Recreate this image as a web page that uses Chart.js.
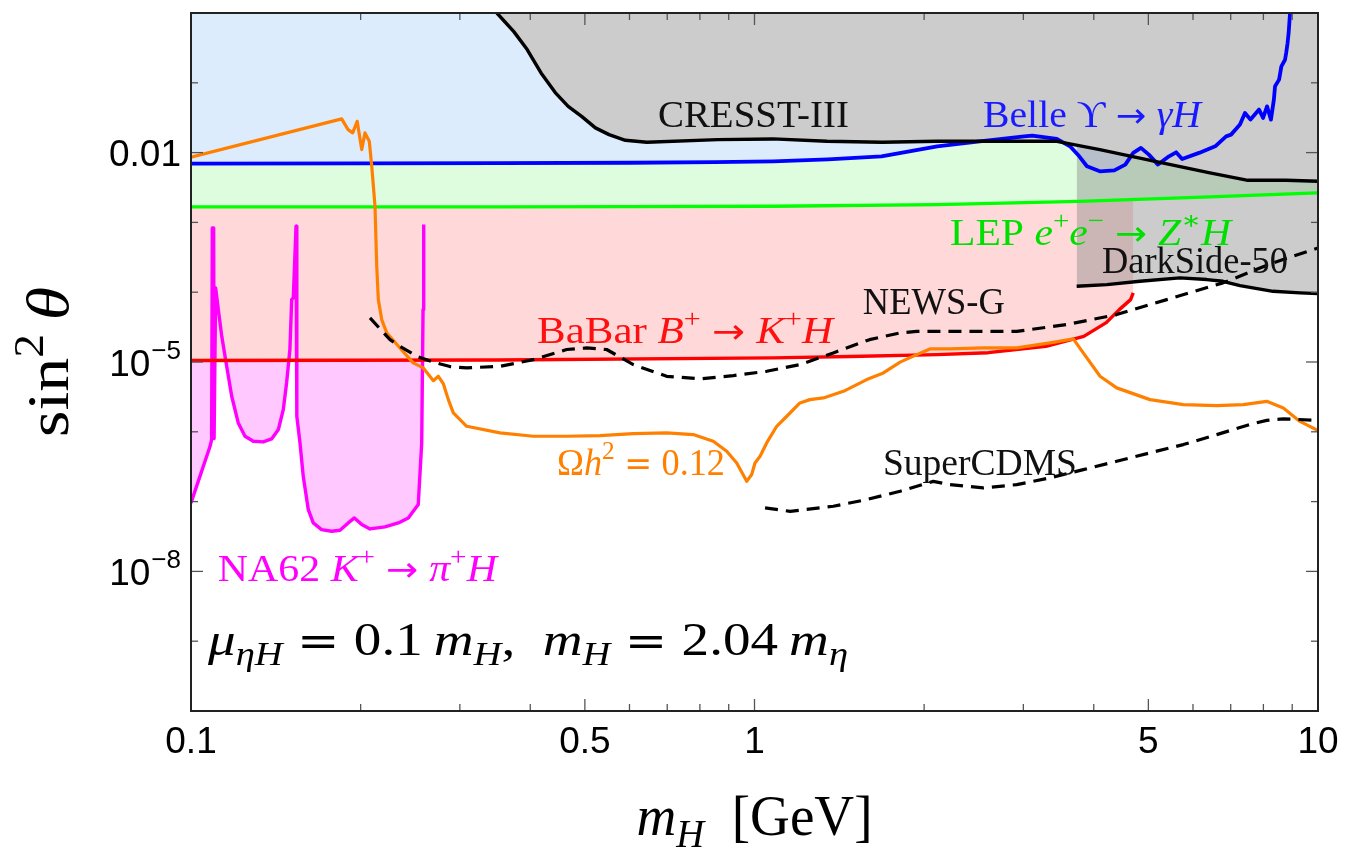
<!DOCTYPE html>
<html><head><meta charset="utf-8">
<script src="https://cdn.jsdelivr.net/npm/chart.js@4.4.1/dist/chart.umd.min.js"></script>
<style>html,body{margin:0;padding:0;background:#fff}canvas{display:block}</style>
</head><body>
<canvas id="c" width="1356" height="847"></canvas>
<script>
// ---------------- data (m_H in GeV, sin^2 theta) ----------------
const belleX = [0.1, 0.2, 0.35, 0.6, 0.85, 1.08, 1.35, 1.68, 2.11, 2.51, 3.01, 3.11, 3.44, 3.63, 3.77, 3.89, 4.10, 4.35, 4.55, 4.70, 4.85, 5.01, 5.20, 5.44, 5.60, 5.74, 6.15, 6.57, 6.87, 7.01, 7.27, 7.42, 7.59, 7.86, 7.99, 8.12, 8.25, 8.35, 8.39, 8.53, 8.61, 8.74, 8.78, 8.83, 8.87, 8.92];
const belleY = [6.95e-3, 7.0e-3, 7.05e-3, 7.15e-3, 7.3e-3, 7.5e-3, 8.0e-3, 8.85e-3, 1.23e-2, 1.45e-2, 1.71e-2, 1.75e-2, 1.57e-2, 1.23e-2, 8.85e-3, 6.37e-3, 5.4e-3, 5.57e-3, 6.73e-3, 9.9e-3, 1.17e-2, 9.36e-3, 6.73e-3, 8.85e-3, 1.01e-2, 8.1e-3, 9.9e-3, 1.23e-2, 1.71e-2, 1.81e-2, 2.52e-2, 3.7e-2, 2.97e-2, 4.13e-2, 3.14e-2, 4.6e-2, 2.97e-2, 5.74e-2, 8.9e-2, 0.111, 0.172, 0.214, 0.267, 0.37, 0.52, 1.0];

const cresstX = [0.349, 0.374, 0.395, 0.418, 0.443, 0.467, 0.494, 0.522, 0.552, 0.590, 0.644, 0.861, 1.078, 1.345, 1.684, 2.108, 2.63, 3.44, 4.10, 5.14, 6.43, 7.51, 8.78, 10];
const cresstY = [1.0, 0.541, 0.299, 0.1387, 0.0724, 0.046, 0.0328, 0.0226, 0.0181, 0.015, 0.01406, 0.01535, 0.0157, 0.01452, 0.01406, 0.01452, 0.01452, 0.01452, 0.01104, 7.5e-3, 5.12e-3, 4.01e-3, 4.01e-3, 3.88e-3];

const darksideX = [3.73, 4.22, 4.83, 5.69, 6.35, 6.78, 7.27, 8.32, 9.29, 10];
const darksideY = [1.217e-4, 1.285e-4, 1.433e-4, 1.603e-4, 1.517e-4, 1.433e-4, 1.245e-4, 1.03e-4, 9.77e-5, 9.55e-5];

const lepX = [0.1, 0.35, 0.6, 1.08, 2.11, 3.77, 6.43, 10];
const lepY = [1.667e-3, 1.667e-3, 1.68e-3, 1.70e-3, 1.80e-3, 2.0e-3, 2.32e-3, 2.65e-3];

const babarX = [0.1, 0.35, 1.08, 1.48, 2.11, 2.6, 3.29, 3.84, 4.21, 4.44, 4.65, 4.70];
const babarY = [1.05e-5, 1.07e-5, 1.145e-5, 1.2e-5, 1.277e-5, 1.36e-5, 1.68e-5, 2.33e-5, 3.67e-5, 5.63e-5, 7.83e-5, 9.77e-5];

const omegaX = [0.1, 0.1851, 0.190, 0.1936, 0.1972, 0.2009, 0.2036, 0.2072, 0.2093, 0.2121, 0.2136, 0.2150, 0.2180, 0.2225, 0.2349, 0.2479, 0.2584, 0.2692, 0.2748, 0.2805, 0.2862, 0.2921, 0.3085, 0.3535, 0.4051, 0.4642, 0.5318, 0.6094, 0.6984, 0.7785, 0.8450, 0.8927, 0.9299, 0.9687, 0.9886, 1.002, 1.023, 1.051, 1.095, 1.141, 1.204, 1.254, 1.325, 1.438, 1.582, 1.693, 1.813, 1.941, 2.048, 2.223, 2.547, 2.92, 3.345, 3.679, 3.832, 4.104, 4.393, 5.033, 5.768, 6.613, 7.37, 8.11, 8.68, 9.29, 10];
const omegaY = [8.6e-3, 0.0304, 0.02136, 0.01915, 0.0281, 0.01104, 0.01915, 0.01452, 6.37e-3, 1.70e-3, 2.35e-4, 7.83e-5, 4.05e-5, 2.61e-5, 1.59e-5, 9.7e-6, 8.23e-6, 5.4e-6, 6.24e-6, 4.85e-6, 2.89e-6, 1.87e-6, 1.2e-6, 9.64e-7, 8.63e-7, 8.63e-7, 8.83e-7, 9.42e-7, 9.64e-7, 9.12e-7, 7.31e-7, 5.26e-7, 3.58e-7, 1.95e-7, 2.44e-7, 3.58e-7, 4.46e-7, 6.93e-7, 1.2e-6, 1.67e-6, 2.59e-6, 2.89e-6, 3.06e-6, 3.8e-6, 5.6e-6, 6.98e-6, 9.97e-6, 1.277e-5, 1.54e-5, 1.54e-5, 1.59e-5, 1.59e-5, 1.88e-5, 2.14e-5, 1.35e-5, 6.24e-6, 4.26e-6, 2.89e-6, 2.45e-6, 2.37e-6, 2.45e-6, 2.73e-6, 2.2e-6, 1.41e-6, 1.04e-6];

const newsX = [0.2078, 0.2255, 0.2349, 0.2515, 0.2692, 0.2881, 0.3085, 0.3535, 0.4051, 0.4642, 0.5036, 0.5465, 0.6094, 0.6984, 0.8004, 0.9171, 1.051, 1.204, 1.38, 1.6, 1.813, 1.941, 2.38, 2.92, 3.581, 4.393, 5.389, 6.782, 8.32, 10];
const newsY = [4.28e-5, 2.09e-5, 1.68e-5, 1.21e-5, 1.0e-5, 8.6e-6, 8.23e-6, 8.68e-6, 1.08e-5, 1.51e-5, 1.59e-5, 1.51e-5, 9.18e-6, 6.24e-6, 5.73e-6, 6.38e-6, 7.36e-6, 9.18e-6, 1.35e-5, 2.09e-5, 2.61e-5, 2.75e-5, 2.75e-5, 2.75e-5, 3.44e-5, 4.78e-5, 7.83e-5, 1.36e-4, 2.63e-4, 4.31e-4];

const cdmsX = [1.044, 1.157, 1.38, 1.582, 1.813, 2.076, 2.223, 2.547, 2.92, 3.345, 3.832, 4.393, 5.033, 5.768, 6.613, 7.57, 8.11, 8.68, 10];
const cdmsY = [8.13e-8, 7.26e-8, 8.57e-8, 1.07e-7, 1.41e-7, 1.95e-7, 1.75e-7, 1.57e-7, 1.75e-7, 2.19e-7, 2.87e-7, 3.78e-7, 4.99e-7, 6.56e-7, 9.12e-7, 1.27e-6, 1.46e-6, 1.53e-6, 1.46e-6];

const na62X = [0.1, 0.1081, 0.1088, 0.1091, 0.1097, 0.1099, 0.1101, 0.1106, 0.1118, 0.1134, 0.1157, 0.1181, 0.1213, 0.1247, 0.129, 0.1343, 0.139, 0.1429, 0.1458, 0.1478, 0.1498, 0.1509, 0.1519, 0.1536, 0.1540, 0.1542, 0.1561, 0.1582, 0.1615, 0.1648, 0.1705, 0.1777, 0.1838, 0.1901, 0.195, 0.2009, 0.2078, 0.2209, 0.2333, 0.243, 0.2531, 0.2567, 0.2581, 0.2588];
const na62Y = [9.58e-8, 6.2e-7, 7.73e-7, 8.34e-4, 8.34e-4, 8.0e-7, 8.0e-7, 1.15e-4, 5.64e-5, 2.33e-5, 8.67e-6, 3.23e-6, 1.34e-6, 8.63e-7, 7.31e-7, 7.16e-7, 7.9e-7, 1.08e-6, 2.08e-6, 5.02e-6, 1.51e-5, 7.83e-5, 8.3e-5, 8.8e-4, 8.8e-4, 1.67e-6, 6.93e-7, 2.3e-7, 7.67e-8, 4.95e-8, 3.97e-8, 3.76e-8, 3.88e-8, 4.95e-8, 5.84e-8, 4.68e-8, 4.06e-8, 4.34e-8, 4.95e-8, 5.84e-8, 9.06e-8, 6.93e-7, 5.64e-5, 9.3e-4];

// ticks
const xMajorTicks = [0.1, 0.5, 1, 5, 10];
const xTickLabels = ['0.1', '0.5', '1', '5', '10'];
const xMinorTicks = [0.2, 0.3, 0.4, 0.6, 0.7, 0.8, 0.9, 2, 3, 4, 6, 7, 8, 9];
const yMajorTicks = [1e-2, 1e-5, 1e-8];
const yTickLabels = [['0.01', ''], ['10', '−5'], ['10', '−8']];
const yMinorTicks = [1, 1e-1, 1e-3, 1e-4, 1e-6, 1e-7, 1e-9, 1e-10];

// ---------------- styling / layout ----------------
const SERIF = "'Liberation Serif','DejaVu Serif',serif";
const SANS = "'Liberation Sans',Arial,sans-serif";
const SYM = "'DejaVu Sans','Liberation Sans',sans-serif";

// label anchors (left edge, baseline) in data coordinates; w = rendered width in px
const annotations = [
  {x: 0.674, y: 0.0236, size: 37, w: 191, color: '#111', segs: [['CRESST-III', 'r']]},
  {x: 2.544, y: 0.0236, size: 37, w: 218, color: '#1a1aff', segs: [['Belle ', 'r'], ['ϒ', 'r'], ['→', 'a'], ['γH', 'i']]},
  {x: 2.223, y: 4.81e-4, size: 37, w: 281, color: '#00e000', segs: [['LEP ', 'r'], ['e', 'i'], ['+', '^'], ['e', 'i'], ['−', '^'], ['→', 'a'], ['Z', 'i'], ['∗', '^'], ['H', 'i']]},
  {x: 4.137, y: 1.91e-4, size: 37, w: 186, color: '#111', segs: [['DarkSide-50', 'r']]},
  {x: 1.557, y: 4.93e-5, size: 37, w: 142, color: '#111', segs: [['NEWS-G', 'r']]},
  {x: 0.4111, y: 1.9e-5, size: 37, w: 296, color: '#ff1010', segs: [['BaBar ', 'r'], ['B', 'i'], ['+', '^'], ['→', 'a'], ['K', 'i'], ['+', '^'], ['H', 'i']]},
  {x: 0.4461, y: 2.44e-7, size: 37, w: 168, color: '#ff8000', segs: [['Ω', 'r'], ['h', 'i'], ['2', '^'], ['=', 'a'], ['0.12', 'r']]},
  {x: 1.690, y: 2.44e-7, size: 37, w: 194, color: '#111', segs: [['SuperCDMS', 'r']]},
  {x: 0.1116, y: 7.38e-9, size: 37, w: 279, color: '#ff00ff', segs: [['NA62 ', 'r'], ['K', 'i'], ['+', '^'], ['→', 'a'], ['π', 'i'], ['+', '^'], ['H', 'i']]},
  {x: 0.1072, y: 6.43e-10, size: 47, w: 640, color: '#000', segs: [['μ', 'i'], ['ηH', '_i'], ['=', 'a'], ['0.1', 'r'], ['\u2009', 'r'], ['m', 'i'], ['H', '_i'], [',', 'r'], ['\u2002', 'r'], ['m', 'i'], ['H', '_i'], ['=', 'a'], ['2.04', 'r'], ['\u2009', 'r'], ['m', 'i'], ['η', '_i']]}
];

function drawRich(ctx, segs, x, y, size, color, align, targetW) {
  const parts = segs.map(([t, st]) => {
    const sup = st.includes('^'), sub = st.includes('_');
    const it = st.includes('i');
    const rel = st.includes('a');
    const fs = (sup || sub) ? size * 0.7 : (rel ? size * 0.92 : size);
    const font = rel ? (fs + 'px ' + SYM) : ((it ? 'italic ' : '') + fs + 'px ' + SERIF);
    ctx.font = font;
    const pad = rel ? size * 0.26 : 0;
    return {t, font, pad, w: ctx.measureText(t).width + 2 * pad, dy: sup ? -size * 0.42 : (sub ? size * 0.22 : 0)};
  });
  const natural = parts.reduce((a, p) => a + p.w, 0);
  const sx = targetW ? targetW / natural : 1;
  const total = natural * sx;
  const start = align === 'center' ? x - total / 2 : (align === 'right' ? x - total : x);
  ctx.save();
  ctx.translate(start, y);
  ctx.scale(sx, 1);
  ctx.fillStyle = color; ctx.textBaseline = 'alphabetic'; ctx.textAlign = 'left';
  let cx = 0;
  for (const p of parts) { ctx.font = p.font; ctx.fillText(p.t, cx + p.pad, p.dy); cx += p.w; }
  ctx.restore();
}

const framePlugin = {
  id: 'frame',
  afterDraw(chart) {
    const ctx = chart.ctx, a = chart.chartArea;
    const xs = chart.scales.x, ys = chart.scales.y;
    ctx.save();
    // annotations
    for (const an of annotations) {
      drawRich(ctx, an.segs, xs.getPixelForValue(an.x), ys.getPixelForValue(an.y), an.size, an.color, 'left', an.w);
    }
    // ticks
    ctx.strokeStyle = '#555'; ctx.lineWidth = 1.3;
    const tick = (x1, y1, x2, y2) => { ctx.beginPath(); ctx.moveTo(x1, y1); ctx.lineTo(x2, y2); ctx.stroke(); };
    const xt = (v, len) => { const p = xs.getPixelForValue(v); tick(p, a.bottom, p, a.bottom - len); tick(p, a.top, p, a.top + len); };
    const yt = (v, len) => { const p = ys.getPixelForValue(v); tick(a.left, p, a.left + len, p); tick(a.right, p, a.right - len, p); };
    xMajorTicks.forEach(v => xt(v, 12)); xMinorTicks.forEach(v => xt(v, 7));
    yMajorTicks.forEach(v => yt(v, 12)); yMinorTicks.forEach(v => yt(v, 7));
    // frame
    ctx.strokeStyle = '#222'; ctx.lineWidth = 2;
    ctx.strokeRect(a.left, a.top, a.right - a.left, a.bottom - a.top);
    // x tick labels
    ctx.fillStyle = '#000'; ctx.textBaseline = 'alphabetic'; ctx.textAlign = 'center';
    ctx.font = '37px ' + SANS;
    xMajorTicks.forEach((v, i) => ctx.fillText(xTickLabels[i], xs.getPixelForValue(v), a.bottom + 42));
    // y tick labels
    yMajorTicks.forEach((v, i) => {
      const p = ys.getPixelForValue(v);
      const [base, exp] = yTickLabels[i];
      ctx.font = '37px ' + SANS; const wb = ctx.measureText(base).width;
      ctx.font = '26px ' + SANS; const we = exp ? ctx.measureText(exp).width + 1 : 0;
      const right = a.left - 10;
      ctx.textAlign = 'left';
      ctx.font = '37px ' + SANS; ctx.fillText(base, right - we - wb, p + 13.5);
      if (exp) { ctx.font = '26px ' + SANS; ctx.fillText(exp, right - we + 1, p - 3); }
    });
    // axis titles
    drawRich(ctx, [['m', 'i'], ['H', '_i'], ['\u2002[GeV]', 'r']], (a.left + a.right) / 2, 835, 56, '#000', 'center', 236);
    ctx.save();
    ctx.translate(68, (a.top + a.bottom) / 2);
    ctx.rotate(-Math.PI / 2);
    drawRich(ctx, [['sin', 'r'], ['2', '^'], ['\u2009θ', 'i']], 0, 0, 60, '#000', 'center', 150);
    ctx.restore();
    ctx.restore();
  }
};

const pts = (xs, ys) => xs.map((x, i) => ({x: x, y: ys[i]}));
const DASH = [13, 8];

const datasets = [
  {label: 'NA62 K+→π+H', data: pts(na62X, na62Y), borderColor: '#ff00ff', borderWidth: 3.4, fill: 'end', backgroundColor: 'rgb(255,200,255)', order: 10},
  {label: 'BaBar B+→K+H', data: pts(babarX, babarY), borderColor: '#ff0000', borderWidth: 3.4, fill: 'end', backgroundColor: 'rgb(255,217,217)', order: 9},
  {label: 'LEP', data: pts(lepX, lepY), borderColor: '#00ff00', borderWidth: 3.4, fill: 'end', backgroundColor: 'rgb(222,252,222)', order: 8},
  {label: 'Belle', data: pts(belleX, belleY), borderColor: '#0000ff', borderWidth: 3.8, fill: 'end', backgroundColor: 'rgb(220,236,252)', order: 7},
  {label: 'DarkSide-50', data: pts(darksideX, darksideY), borderColor: '#000', borderWidth: 3.4, fill: 'end', backgroundColor: 'rgba(128,128,128,0.4)', order: 6},
  {label: 'CRESST-III', data: pts(cresstX, cresstY), borderColor: '#000', borderWidth: 3.4, fill: 'end', backgroundColor: 'rgb(204,204,204)', order: 5},
  {label: 'Omega h2 = 0.12', data: pts(omegaX, omegaY), borderColor: '#ff8000', borderWidth: 3.2, fill: false, order: 4},
  {label: 'NEWS-G', data: pts(newsX, newsY), borderColor: '#000', borderWidth: 3.2, borderDash: DASH, fill: false, order: 3},
  {label: 'SuperCDMS', data: pts(cdmsX, cdmsY), borderColor: '#000', borderWidth: 3.2, borderDash: DASH, fill: false, order: 2}
];

new Chart(document.getElementById('c'), {
  type: 'line',
  data: {datasets},
  options: {
    responsive: false,
    animation: false,
    devicePixelRatio: 1,
    layout: {padding: {left: 191, right: 38, top: 13, bottom: 136}},
    scales: {
      x: {type: 'logarithmic', min: 0.1, max: 10, display: false},
      y: {type: 'logarithmic', min: 1e-10, max: 1, display: false}
    },
    elements: {point: {radius: 0, hoverRadius: 0}, line: {tension: 0, borderJoinStyle: 'round'}},
    plugins: {
      legend: {display: false},
      tooltip: {enabled: false},
      filler: {drawTime: 'beforeDatasetsDraw', propagate: false}
    },
    events: []
  },
  plugins: [framePlugin]
});
</script>
</body></html>
